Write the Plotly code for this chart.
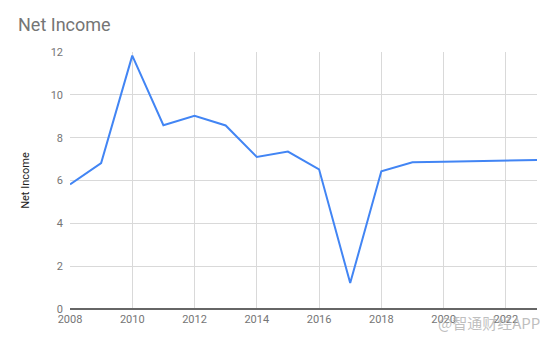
import plotly.graph_objects as go

years = [2008, 2009, 2010, 2011, 2012, 2013, 2014, 2015, 2016, 2017, 2018, 2019, 2020, 2021, 2022, 2023]
net_income = [5.82, 6.81, 11.83, 8.58, 9.02, 8.57, 7.10, 7.35, 6.52, 1.21, 6.43, 6.85, 6.88, 6.91, 6.93, 6.96]
x_ticks = [2008, 2010, 2012, 2014, 2016, 2018, 2020, 2022]
y_ticks = [0, 2, 4, 6, 8, 10, 12]

fig = go.Figure()
fig.add_trace(go.Scatter(
    x=years, y=net_income, mode="lines",
    line=dict(color="#4285F4", width=2),
    hoverinfo="skip", showlegend=False,
))

fig.update_layout(
    width=554, height=343,
    margin=dict(l=70, r=17, t=52, b=34),
    paper_bgcolor="white", plot_bgcolor="white",
    font=dict(family="Roboto, Arial, sans-serif", color="#757575", size=11),
    title=dict(text="Net Income", x=18/554, xanchor="left", y=1-25/343, yanchor="middle",
               font=dict(size=18, color="#757575", family="Roboto, Arial, sans-serif")),
    xaxis=dict(range=[2008, 2023], tickvals=x_ticks, ticktext=[str(v) for v in x_ticks],
               showgrid=True, gridcolor="#d9d9d9", gridwidth=1, zeroline=False,
               showline=False, ticks="", ticklabelstandoff=2,
               tickfont=dict(size=11, color="#757575")),
    yaxis=dict(range=[0, 12], tickvals=y_ticks, showgrid=True, gridcolor="#d9d9d9", gridwidth=1,
               zeroline=True, zerolinecolor="#666666", zerolinewidth=2, showline=False, ticks="",
               ticklabelstandoff=6,
               title=dict(text="Net Income", font=dict(size=11, color="#222222"), standoff=18),
               tickfont=dict(size=11, color="#757575")),
)

fig.add_annotation(
    text="@智通财经APP", xref="paper", yref="paper", x=1.01, y=-13/257,
    xanchor="right", yanchor="middle", showarrow=False,
    font=dict(size=15, color="rgba(170,170,170,0.75)", family="Noto Sans CJK SC"),
)

fig.write_html("out.html")
